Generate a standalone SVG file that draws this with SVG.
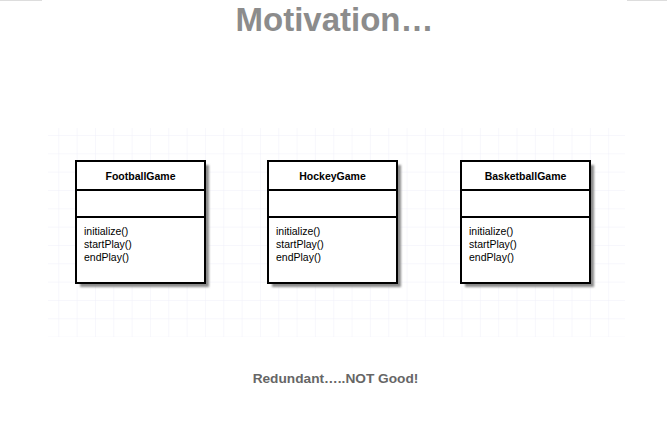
<svg xmlns="http://www.w3.org/2000/svg" width="667" height="438" viewBox="0 0 667 438">
<defs>
<filter id="sh" x="-10%" y="-10%" width="130%" height="130%">
<feGaussianBlur stdDeviation="1.2"/>
</filter>
<pattern id="grid" x="58.3" y="135" width="18.33" height="18.33" patternUnits="userSpaceOnUse">
<path d="M0 0V18.33M0 0H18.33" fill="none" stroke="#f0eff9" stroke-width="1"/>
</pattern>
</defs>
<style>
.box{fill:#fff;stroke:#000;stroke-width:2}
.shadow{fill:#8a8a8a;filter:url(#sh)}
.div{stroke:#000;stroke-width:2}
.cn{font-family:"Liberation Sans",Arial,sans-serif;font-weight:bold;font-size:10.5px;text-anchor:middle;fill:#000}
.m{font-family:"Liberation Sans",Arial,sans-serif;font-size:10.5px;fill:#000}
</style>
<rect width="667" height="438" fill="#fff"/>
<line x1="0" y1="0.5" x2="42" y2="0.5" stroke="#ddd"/>
<line x1="627" y1="0.5" x2="667" y2="0.5" stroke="#ddd"/>
<text x="334.5" y="31" font-family="Liberation Sans,Arial,sans-serif" font-weight="bold" font-size="33" fill="#8c8c8c" text-anchor="middle">Motivation…</text>
<rect x="48" y="128" width="577" height="209" fill="url(#grid)"/>
<g id="connectors"/>
<g id="FootballGame">
<rect class="shadow" x="80" y="165" width="129" height="122"/>
<rect class="box" x="76" y="161" width="129" height="122"/>
<line class="div" x1="76" y1="190" x2="205" y2="190"/>
<line class="div" x1="76" y1="217" x2="205" y2="217"/>
<text class="cn" x="140.5" y="180">FootballGame</text>
<text class="m" x="84" y="235">initialize()</text>
<text class="m" x="84" y="248">startPlay()</text>
<text class="m" x="84" y="261">endPlay()</text>
</g>
<g id="HockeyGame">
<rect class="shadow" x="272" y="165" width="129" height="122"/>
<rect class="box" x="268" y="161" width="129" height="122"/>
<line class="div" x1="268" y1="190" x2="397" y2="190"/>
<line class="div" x1="268" y1="217" x2="397" y2="217"/>
<text class="cn" x="332.5" y="180">HockeyGame</text>
<text class="m" x="276" y="235">initialize()</text>
<text class="m" x="276" y="248">startPlay()</text>
<text class="m" x="276" y="261">endPlay()</text>
</g>
<g id="BasketballGame">
<rect class="shadow" x="465" y="165" width="129" height="122"/>
<rect class="box" x="461" y="161" width="129" height="122"/>
<line class="div" x1="461" y1="190" x2="590" y2="190"/>
<line class="div" x1="461" y1="217" x2="590" y2="217"/>
<text class="cn" x="525.5" y="180">BasketballGame</text>
<text class="m" x="469" y="235">initialize()</text>
<text class="m" x="469" y="248">startPlay()</text>
<text class="m" x="469" y="261">endPlay()</text>
</g>
<text x="335.5" y="383" font-family="Liberation Sans,Arial,sans-serif" font-weight="bold" font-size="13.7" fill="#666" text-anchor="middle">Redundant…..NOT Good!</text>
</svg>
